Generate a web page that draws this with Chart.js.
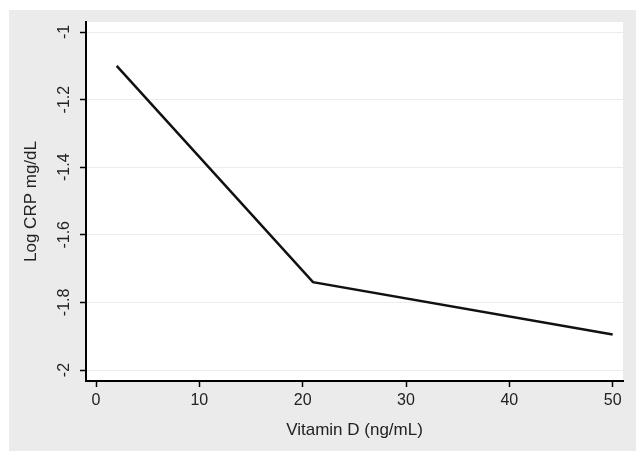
<!DOCTYPE html>
<html>
<head>
<meta charset="utf-8">
<script src="https://cdn.jsdelivr.net/npm/chart.js@4/dist/chart.umd.min.js"></script>
<style>
  html, body { margin: 0; padding: 0; background: #ffffff; }
  #wrap { position: absolute; left: 9px; top: 10px; width: 627px; height: 441px; background: #ebebeb; }
  canvas { display: block; }
</style>
</head>
<body>
<div id="wrap"><canvas id="c" width="627" height="441"></canvas></div>
<script>
// Data
const vitaminD = [2, 21, 50];
const logCRP = [-1.10, -1.74, -1.895];
const xTicks = [0, 10, 20, 30, 40, 50];
const yTicks = [-2, -1.8, -1.6, -1.4, -1.2, -1];
const yTickLabels = ['-2', '-1.8', '-1.6', '-1.4', '-1.2', '-1'];
const xTitle = 'Vitamin D (ng/mL)';
const yTitle = 'Log CRP mg/dL';

const FONT = "'Liberation Sans', Arial, sans-serif";

const plotBg = {
  id: 'plotBg',
  beforeDraw(chart) {
    const { ctx, chartArea: a } = chart;
    ctx.save();
    ctx.fillStyle = '#ffffff';
    ctx.fillRect(a.left, a.top, a.right - a.left, a.bottom - a.top);
    ctx.restore();
  }
};

new Chart(document.getElementById('c'), {
  type: 'scatter',
  data: {
    datasets: [{
      data: vitaminD.map((x, i) => ({ x: x, y: logCRP[i] })),
      showLine: true,
      borderColor: '#111111',
      borderWidth: 2.5,
      pointRadius: 0,
      fill: false,
      tension: 0
    }]
  },
  options: {
    responsive: false,
    animation: false,
    layout: { padding: { left: 0, top: 12, right: 13, bottom: 0 } },
    plugins: { legend: { display: false }, tooltip: { enabled: false } },
    scales: {
      x: {
        type: 'linear',
        min: -0.97,
        max: 51,
        afterBuildTicks(scale) { scale.ticks = xTicks.map(v => ({ value: v })); },
        afterFit(scale) { scale.height = 70; },
        grid: { drawOnChartArea: false, drawTicks: true, tickLength: 6, tickColor: '#000000', tickWidth: 1.5 },
        border: { display: true, color: '#000000', width: 2 },
        ticks: { color: '#222222', font: { family: FONT, size: 16 }, padding: 4, maxRotation: 0, minRotation: 0,
          callback: (v) => String(v) },
        title: { display: true, text: xTitle, color: '#222222', font: { family: FONT, size: 17 }, padding: { top: 0, bottom: 10 } }
      },
      y: {
        type: 'linear',
        min: -2.0325,
        max: -0.9704,
        afterBuildTicks(scale) { scale.ticks = yTicks.map(v => ({ value: v })); },
        afterFit(scale) { scale.width = 77; },
        grid: { color: '#ececec', lineWidth: 1, drawTicks: true, tickLength: 6, tickColor: '#000000', tickWidth: 1.5 },
        border: { display: true, color: '#000000', width: 2 },
        ticks: { color: '#222222', font: { family: FONT, size: 16 }, padding: 2, minRotation: 90, maxRotation: 90,
          crossAlign: 'center',
          callback: (v) => { const i = yTicks.findIndex(t => Math.abs(t - v) < 1e-9); return i >= 0 ? yTickLabels[i] : ''; } },
        title: { display: true, text: yTitle, color: '#222222', font: { family: FONT, size: 17 }, padding: { top: 12, bottom: 0 } }
      }
    }
  },
  plugins: [plotBg]
});
</script>
</body>
</html>
